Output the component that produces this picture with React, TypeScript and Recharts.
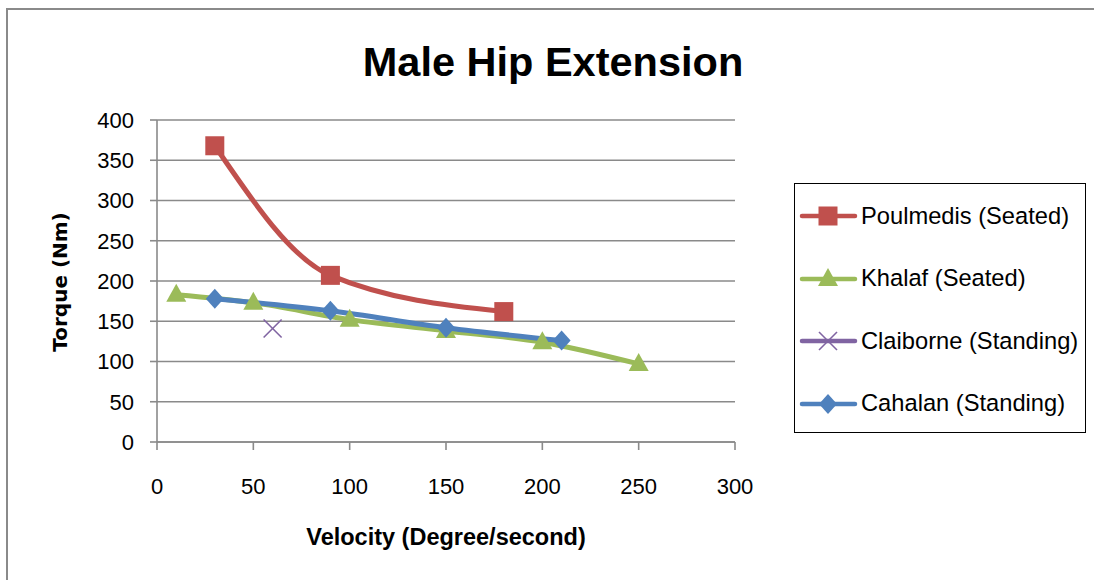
import { LineChart, Line, XAxis, YAxis, CartesianGrid } from 'recharts'

const RED = '#c0504d'
const GREEN = '#9bbb59'
const PURPLE = '#8064a2'
const BLUE = '#4f81bd'
const GRID = '#8a8a8a'
const FONT = '"Liberation Sans", Arial, sans-serif'

// ── data ────────────────────────────────────────────────────────────────────
const poulmedisX = [30, 90, 180]
const poulmedisY = [368, 207, 162]
const khalafX = [10, 50, 100, 150, 200, 250]
const khalafY = [183, 173, 152, 138, 124, 97]
const claiborneX = [60]
const claiborneY = [141]
const cahalanX = [30, 90, 150, 210]
const cahalanY = [178, 163, 142, 126]

const xTicks = [0, 50, 100, 150, 200, 250, 300]
const yTicks = [0, 50, 100, 150, 200, 250, 300, 350, 400]

const toPoints = (xs: number[], ys: number[]) => xs.map((x, i) => ({ x, y: ys[i] }))

// ── markers ─────────────────────────────────────────────────────────────────
type DotProps = { cx?: number; cy?: number; index?: number }

function Square({ cx = 0, cy = 0, size = 19 }: { cx?: number; cy?: number; size?: number }) {
  return <rect x={cx - size / 2} y={cy - size / 2} width={size} height={size} fill={RED} />
}
function Triangle({ cx = 0, cy = 0 }: { cx?: number; cy?: number }) {
  return <polygon points={`${cx},${cy - 11} ${cx + 10},${cy + 7} ${cx - 10},${cy + 7}`} fill={GREEN} />
}
function Cross({ cx = 0, cy = 0 }: { cx?: number; cy?: number }) {
  const r = 9
  return (
    <g stroke={PURPLE} strokeWidth={1.6}>
      <line x1={cx - r} y1={cy - r} x2={cx + r} y2={cy + r} />
      <line x1={cx - r} y1={cy + r} x2={cx + r} y2={cy - r} />
    </g>
  )
}
function Diamond({ cx = 0, cy = 0 }: { cx?: number; cy?: number }) {
  return <polygon points={`${cx},${cy - 10} ${cx + 9},${cy} ${cx},${cy + 10} ${cx - 9},${cy}`} fill={BLUE} />
}

const series = [
  { name: 'Poulmedis (Seated)', color: RED, data: toPoints(poulmedisX, poulmedisY), Marker: Square },
  { name: 'Khalaf (Seated)', color: GREEN, data: toPoints(khalafX, khalafY), Marker: Triangle },
  { name: 'Claiborne (Standing)', color: PURPLE, data: toPoints(claiborneX, claiborneY), Marker: Cross },
  { name: 'Cahalan (Standing)', color: BLUE, data: toPoints(cahalanX, cahalanY), Marker: Diamond },
]

// ── legend box ──────────────────────────────────────────────────────────────
function LegendBox() {
  return (
    <div style={{
      position: 'absolute', left: 794, top: 183, width: 292, height: 250,
      border: '1.5px solid #000', boxSizing: 'border-box', background: '#fff',
    }}>
      {series.map((s, i) => (
        <div key={s.name} style={{ position: 'absolute', left: 0, top: 32 + i * 62.5 - 20, height: 40, display: 'flex', alignItems: 'center' }}>
          <svg width={66} height={40}>
            <line x1={7} y1={20} x2={60} y2={20} stroke={s.color} strokeWidth={4.5} strokeLinecap="round" />
            <s.Marker cx={33} cy={20} />
          </svg>
          <span style={{ fontFamily: FONT, fontSize: 23.7, color: '#000', whiteSpace: 'nowrap' }}>{s.name}</span>
        </div>
      ))}
    </div>
  )
}

export default function App() {
  return (
    <div style={{ position: 'absolute', left: 0, top: 0, width: 1094, height: 580, background: '#fff', overflow: 'hidden' }}>
      {/* chart frame (only top/left edges are inside the picture) */}
      <div style={{ position: 'absolute', left: 6, top: 8, width: 1088, height: 572, borderLeft: `2px solid ${GRID}`, borderTop: `2px solid ${GRID}` }} />

      <div style={{ position: 'absolute', left: 553, top: 62, transform: 'translate(-50%, -50%)', whiteSpace: 'nowrap', fontFamily: FONT, fontWeight: 700, fontSize: 41.5, color: '#000' }}>
        Male Hip Extension
      </div>

      <div style={{ position: 'absolute', left: 0, top: 0 }}>
        <LineChart width={1094} height={580} margin={{ top: 120, right: 359, bottom: 98, left: 100 }}>
          <CartesianGrid vertical={false} stroke={GRID} strokeWidth={1.6} />
          <XAxis
            type="number" dataKey="x" domain={[0, 300]} ticks={xTicks} height={40}
            stroke={GRID} strokeWidth={1.6} tickSize={8} tickMargin={28}
            tick={{ fontFamily: FONT, fontSize: 22, fill: '#000' }}
          />
          <YAxis
            type="number" dataKey="y" domain={[0, 400]} ticks={yTicks} width={57}
            stroke={GRID} strokeWidth={1.6} tickSize={7} tickMargin={16}
            tick={{ fontFamily: FONT, fontSize: 22, fill: '#000' }}
          />
          {series.map(s => (
            <Line
              key={s.name} data={s.data} dataKey="y" type="monotone" name={s.name}
              stroke={s.color} strokeWidth={5} isAnimationActive={false} activeDot={false}
              dot={(p: DotProps) => <s.Marker key={`${s.name}-${p.index}`} cx={p.cx} cy={p.cy} />}
            />
          ))}
        </LineChart>
      </div>

      <div style={{
        position: 'absolute', left: 60, top: 282, transform: 'translate(-50%, -50%) rotate(-90deg)',
        fontFamily: '"DejaVu Sans", sans-serif', fontWeight: 700, fontSize: 20, color: '#000', whiteSpace: 'nowrap',
      }}>
        Torque (Nm)
      </div>

      <div style={{ position: 'absolute', left: 446, top: 537, transform: 'translate(-50%, -50%)', fontFamily: FONT, fontWeight: 700, fontSize: 23.5, color: '#000', whiteSpace: 'nowrap' }}>
        Velocity (Degree/second)
      </div>

      <LegendBox />
    </div>
  )
}
